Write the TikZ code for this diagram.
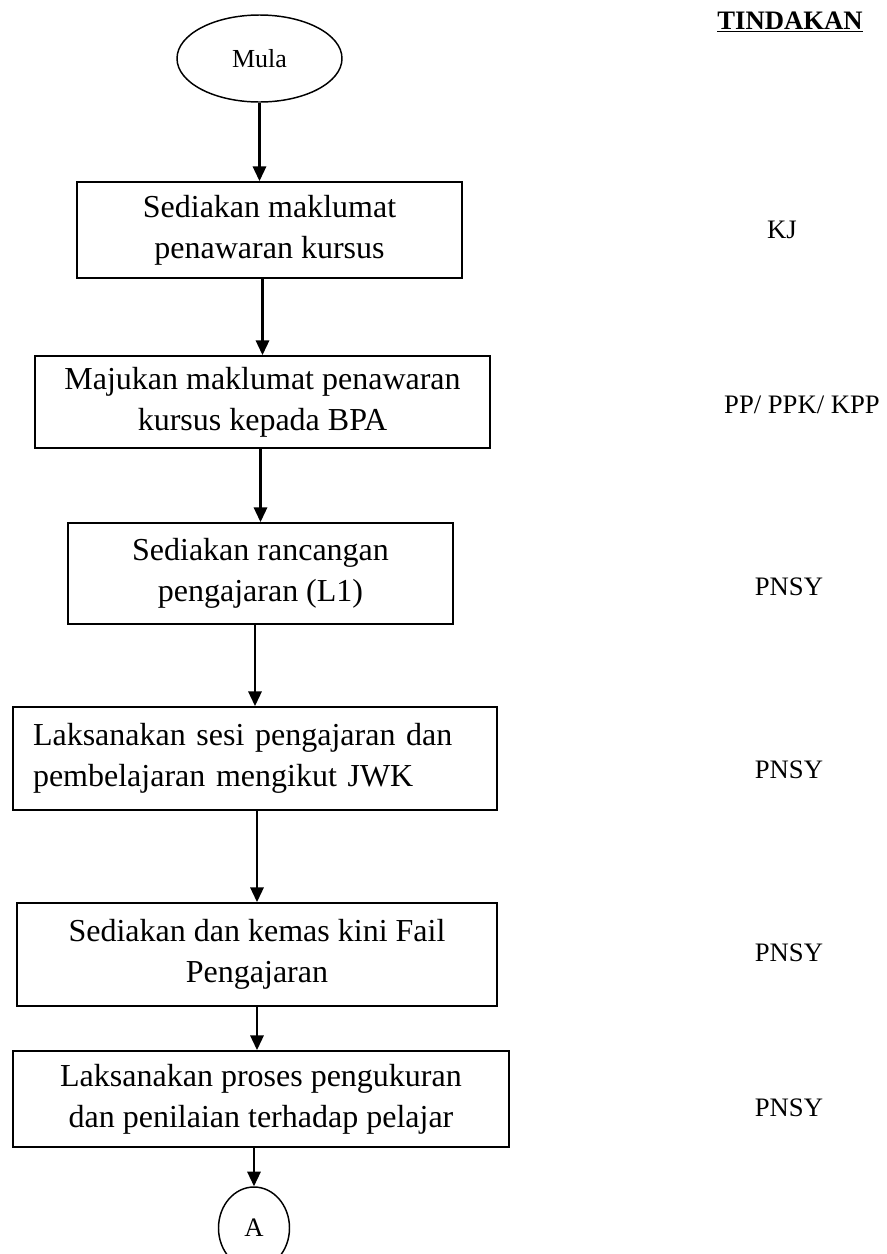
\documentclass[tikz,border=0pt]{standalone}
\usepackage{fontspec}
\setmainfont{Liberation Serif}
\usetikzlibrary{arrows.meta, shapes.geometric, calc}

\begin{document}
\begin{tikzpicture}[x=0.75pt, y=-0.75pt,
        box/.style={draw, line width=1.4pt, align=center, inner sep=0pt, font=\fontsize{24}{31}\selectfont},
        arr/.style={-{Triangle[length=11pt,width=10pt]}, line width=1.6pt},
        lbl/.style={font=\fontsize{20}{24}\selectfont}]
        \useasboundingbox (0,0) rectangle (887,1254);

        % carta alir
        \node[draw, ellipse, line width=1.1pt, minimum width=123.75pt, minimum height=65.25pt, inner sep=0pt, font=\fontsize{19.5}{24}\selectfont] (mula) at (259.5,58.5) {Mula};
        \node[box, minimum width=288.75pt, minimum height=72pt] (b1) at (269.5,230) {Sediakan maklumat\\penawaran kursus};
        \node[box, minimum width=341.25pt, minimum height=69pt] (b2) at (262.5,402) {Majukan maklumat penawaran\\kursus kepada BPA};
        \node[box, minimum width=288.75pt, minimum height=75.75pt] (b3) at (260.5,573.5) {Sediakan rancangan\\pengajaran (L1)};
        \node[box, align=left, text width=333pt, inner xsep=15pt, minimum height=77.25pt] (b4) at (255,758.5) {Laksanakan sesi pengajaran dan\\pembelajaran mengikut JWK};
        \node[box, minimum width=360pt, minimum height=77.25pt] (b5) at (257,954.5) {Sediakan dan kemas kini Fail\\Pengajaran};
        \node[box, minimum width=372pt, minimum height=72pt] (b6) at (261,1099) {Laksanakan proses pengukuran\\dan penilaian terhadap pelajar};
        \node[draw, ellipse, line width=1.1pt, minimum width=53.25pt, minimum height=61.5pt, inner sep=0pt, font=\fontsize{20}{24}\selectfont] (A) at (254,1228) {A};

        \draw[arr] (mula.south) -- (mula.south |- b1.north);
        \draw[arr] (b2.north |- b1.south) -- (b2.north);
        \draw[arr] (b3.north |- b2.south) -- (b3.north);
        \draw[arr] (b4.north |- b3.south) -- (b4.north);
        \draw[arr] (b5.north |- b4.south) -- (b5.north);
        \draw[arr] (b5.south) -- (b5.south |- b6.north);
        \draw[arr] (A.north |- b6.south) -- (A.north);

        % tindakan
        \node[lbl] (tindakan) at (790,22) {\underline{\textbf{TINDAKAN}}};
        \node[lbl] (t1) at (782,230) {KJ};
        \node[lbl] (t2) at (802,405) {PP/ PPK/ KPP};
        \node[lbl] (t3) at (789,587) {PNSY};
        \node[lbl] (t4) at (789,770) {PNSY};
        \node[lbl] (t5) at (789,953) {PNSY};
        \node[lbl] (t6) at (789,1108) {PNSY};
    \end{tikzpicture}
\end{document}
